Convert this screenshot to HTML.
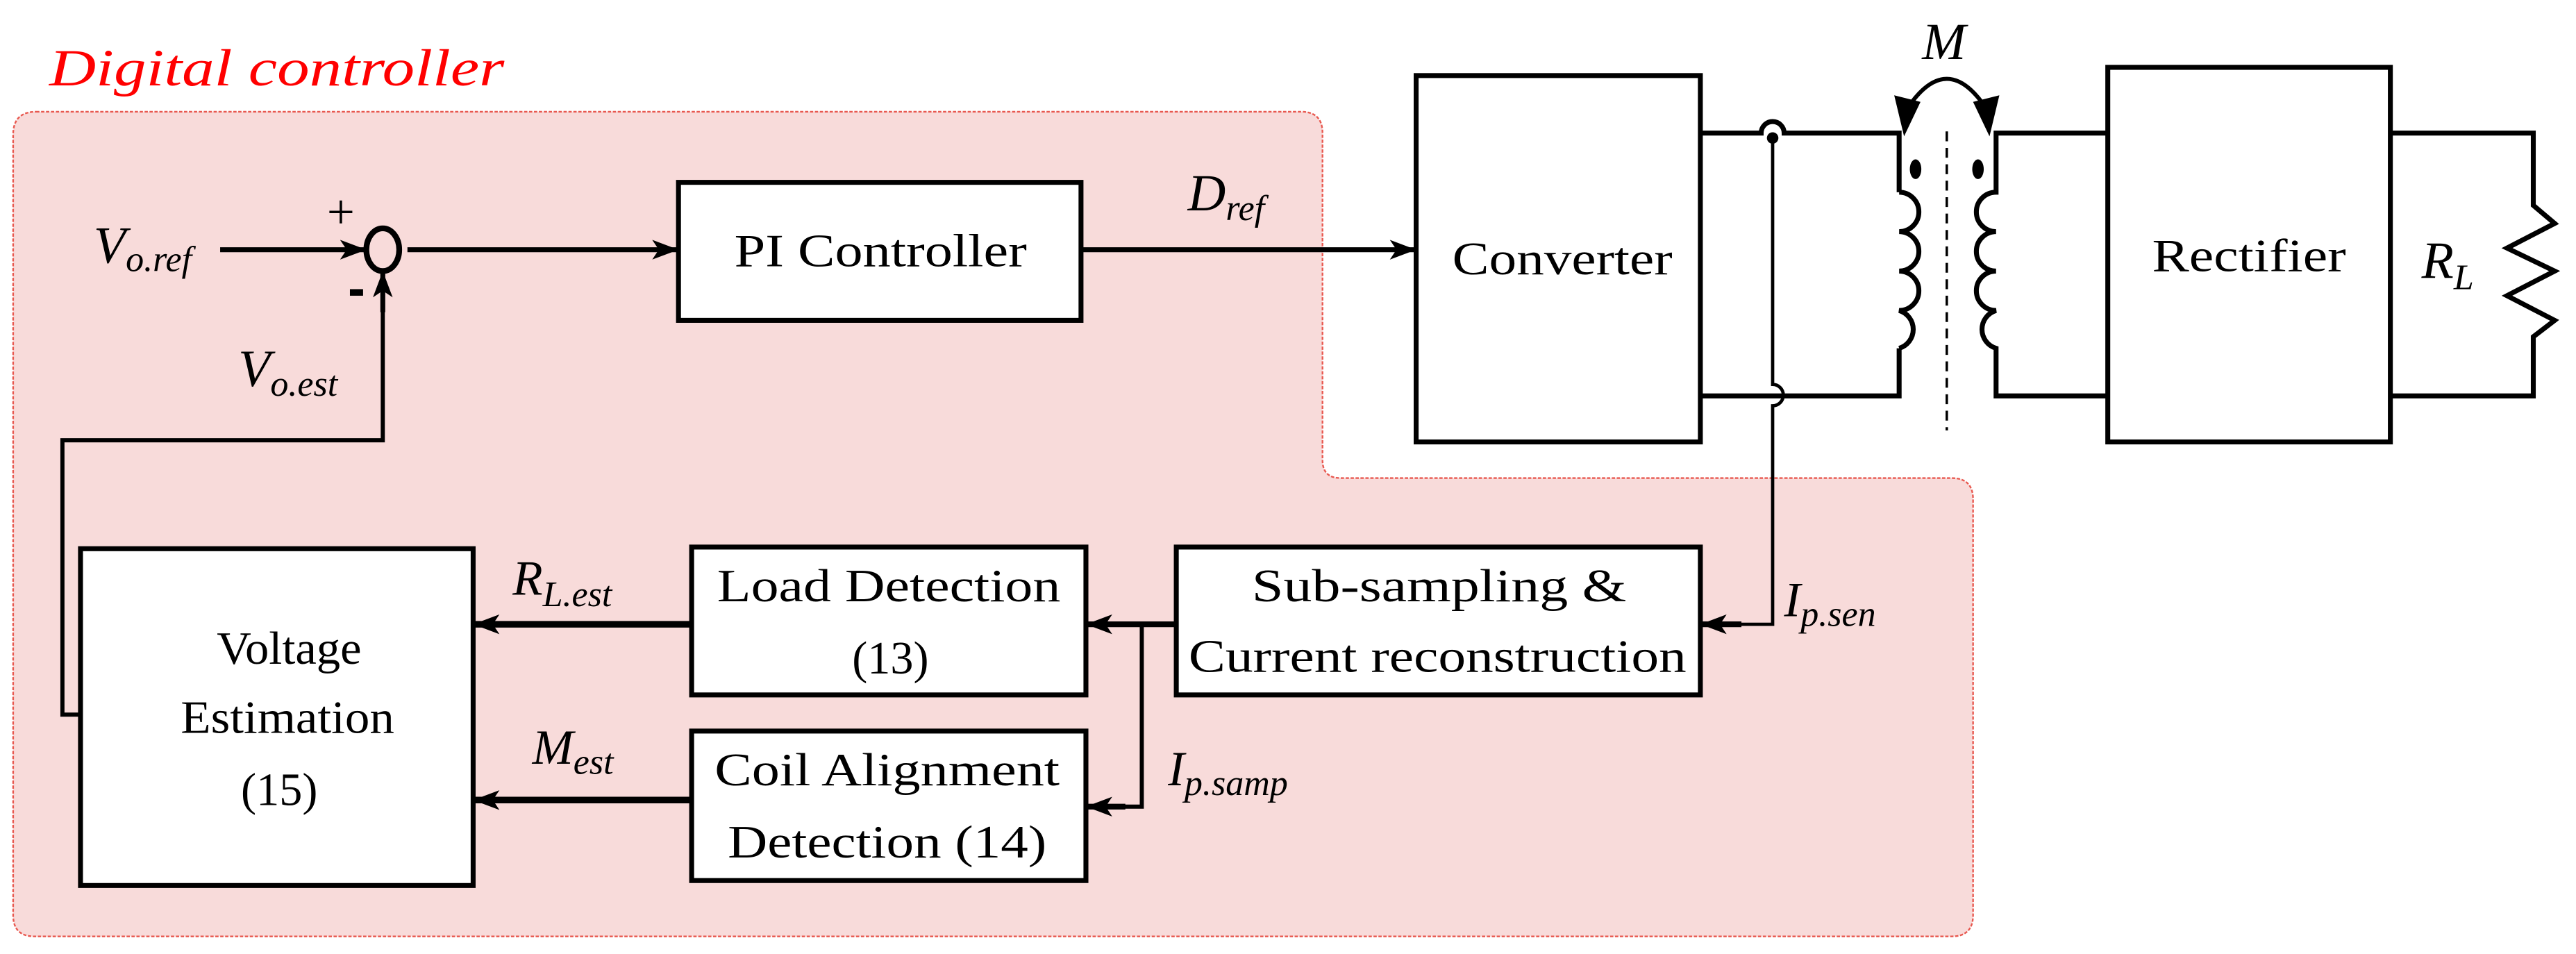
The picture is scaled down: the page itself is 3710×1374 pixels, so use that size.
<!DOCTYPE html>
<html><head><meta charset="utf-8"><style>
html,body{margin:0;padding:0;background:#fff;}
svg{display:block;}
svg text{font-family:"Liberation Serif","Times New Roman",Times,serif;fill:#000;}
</style></head><body>
<svg width="3710" height="1374" viewBox="0 0 1568 580.7" xmlns="http://www.w3.org/2000/svg" font-family="Liberation Serif, Times New Roman, serif">
<defs>
<marker id="ah" markerWidth="16" markerHeight="12" refX="15" refY="6" orient="auto" markerUnits="userSpaceOnUse">
<path d="M0,0 L16,6 L0,12 L4,6 Z" fill="#000"/>
</marker>
</defs>
<path d="M22,68 L792,68 Q805,68 805,81 L805,280 Q805,291 816,291 L1188,291 Q1201,291 1201,304 L1201,557 Q1201,570 1188,570 L21,570 Q8,570 8,557 L8,82 Q8,68 22,68 Z" fill="#f8dbda" stroke="#e8584f" stroke-width="1" stroke-dasharray="2,1"/>
<text x="30" y="52" font-size="32" font-style="italic" style="fill:#ff0000" textLength="277" lengthAdjust="spacingAndGlyphs">Digital controller</text>

<g stroke="#000" fill="none" stroke-width="3">
<line x1="134" y1="152" x2="222" y2="152" marker-end="url(#ah)"/>
<ellipse cx="233" cy="152" rx="10" ry="13" stroke-width="3.5"/>
<line x1="248" y1="152" x2="412" y2="152" marker-end="url(#ah)"/>
<rect x="413" y="111" width="245" height="84" fill="#fff" stroke-width="3"/>
<line x1="658" y1="152" x2="861" y2="152" marker-end="url(#ah)"/>
<polyline points="50,435 38,435 38,268 233,268 233,175" stroke-width="2.5"/>
<line x1="233" y1="190" x2="233" y2="166" marker-end="url(#ah)"/>
<rect x="862" y="46" width="173" height="223" fill="#fff" stroke-width="3"/>
<path d="M1035,81 L1072,81 A7,7 0 0 1 1086,81 L1156,81 L1156,117"/>
<path d="M1035,241 L1156,241 L1156,212"/>
<path d="M1156,117 a12,12 0 0 1 0,24 a12,12 0 0 1 0,24 a12,12 0 0 1 0,24 a12,12 0 0 1 0,23"/>
<path d="M1283,81 L1215,81 L1215,117 a12,12 0 0 0 0,24 a12,12 0 0 0 0,24 a12,12 0 0 0 0,24 a12,12 0 0 0 0,23 L1215,241 L1283,241"/>
<line x1="1185" y1="80" x2="1185" y2="262" stroke-width="1.5" stroke-dasharray="6,4"/>
<path d="M1161,66 Q1185,30 1209,66" stroke-width="2.5"/>
<path d="M1079,85 L1079,234 A6,6 0 0 1 1079,247 L1079,380 L1048,380" stroke-width="2"/>
<line x1="1060" y1="380" x2="1036" y2="380" stroke-width="3.5" marker-end="url(#ah)"/>
<rect x="1283" y="41" width="172" height="228" fill="#fff" stroke-width="3"/>
<path d="M1455,81 L1542,81 L1542,125 L1555,136 L1526,151 L1555,165 L1526,180 L1555,195 L1542,205 L1542,241 L1455,241"/>
<rect x="716" y="333" width="319" height="90" fill="#fff" stroke-width="3"/>
<rect x="421" y="333" width="240" height="90" fill="#fff" stroke-width="3"/>
<rect x="421" y="445" width="240" height="91" fill="#fff" stroke-width="3"/>
<rect x="49" y="334" width="239" height="205" fill="#fff" stroke-width="3"/>
<line x1="716" y1="380" x2="662" y2="380" stroke-width="3.5" marker-end="url(#ah)"/>
<polyline points="695,380 695,491 675,491" stroke-width="2.5"/>
<line x1="685" y1="491" x2="662" y2="491" stroke-width="3.5" marker-end="url(#ah)"/>
<line x1="421" y1="380" x2="289" y2="380" stroke-width="4" marker-end="url(#ah)"/>
<line x1="421" y1="487" x2="289" y2="487" stroke-width="4" marker-end="url(#ah)"/>
</g>
<path d="M1153,58 L1169,62 L1159,83 Z" fill="#000"/>
<path d="M1217,58 L1201,62 L1211,83 Z" fill="#000"/>
<circle cx="1079" cy="84" r="3.5" fill="#000"/>
<ellipse cx="1166" cy="103" rx="3.5" ry="6" fill="#000"/>
<ellipse cx="1204" cy="103" rx="3.5" ry="6" fill="#000"/>

<text x="199" y="139" font-size="30">+</text>
<rect x="213" y="176" width="8" height="4" fill="#000"/>
<text x="57" y="160" font-size="32" font-style="italic">V<tspan font-size="22" dy="5">o.ref</tspan></text>
<text x="145" y="235" font-size="32" font-style="italic">V<tspan font-size="22" dy="6">o.est</tspan></text>
<text x="723" y="128" font-size="32" font-style="italic">D<tspan font-size="22" dy="6">ref</tspan></text>
<text x="1170" y="36" font-size="32" font-style="italic">M</text>
<text x="1474" y="169" font-size="32" font-style="italic">R<tspan font-size="22" dy="7">L</tspan></text>
<text x="312" y="362" font-size="30" font-style="italic">R<tspan font-size="22" dy="7">L.est</tspan></text>
<text x="324" y="465" font-size="30" font-style="italic">M<tspan font-size="22" dy="6">est</tspan></text>
<text x="1086" y="375" font-size="30" font-style="italic">I<tspan font-size="22" dy="6">p.sen</tspan></text>
<text x="711" y="478" font-size="30" font-style="italic">I<tspan font-size="22" dy="6">p.samp</tspan></text>

<g font-size="28" text-anchor="middle">
<text x="536" y="162" textLength="178" lengthAdjust="spacingAndGlyphs">PI Controller</text>
<text x="951" y="167" textLength="134" lengthAdjust="spacingAndGlyphs">Converter</text>
<text x="1369" y="165" textLength="118" lengthAdjust="spacingAndGlyphs">Rectifier</text>
<text x="876" y="366" textLength="228" lengthAdjust="spacingAndGlyphs">Sub-sampling &amp;</text>
<text x="875" y="409" textLength="303" lengthAdjust="spacingAndGlyphs">Current reconstruction</text>
<text x="541" y="366" textLength="209" lengthAdjust="spacingAndGlyphs">Load Detection</text>
<text x="542" y="410">(13)</text>
<text x="540" y="478" textLength="210" lengthAdjust="spacingAndGlyphs">Coil Alignment</text>
<text x="540" y="522" textLength="194" lengthAdjust="spacingAndGlyphs">Detection (14)</text>
<text x="176" y="404" textLength="88" lengthAdjust="spacingAndGlyphs">Voltage</text>
<text x="175" y="446" textLength="130" lengthAdjust="spacingAndGlyphs">Estimation</text>
<text x="170" y="490">(15)</text>
</g>
</svg>
</body></html>
